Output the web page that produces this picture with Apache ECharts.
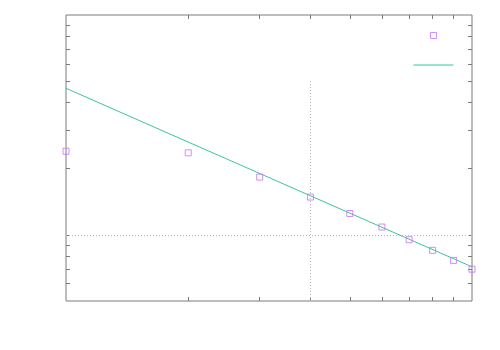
<!DOCTYPE html>
<html>
<head>
<meta charset="utf-8">
<script src="https://cdn.jsdelivr.net/npm/echarts@6/dist/echarts.min.js"></script>
<style>
  html, body { margin: 0; padding: 0; background: #fff; }
  #chart { width: 500px; height: 350px; }
</style>
</head>
<body>
<div id="chart"></div>
<script>
// measured points (log-log)
var xValues = [1, 2, 3, 4, 5, 6, 7, 8, 9, 10];
var yValues = [24.0, 23.6, 18.3, 14.85, 12.5, 10.85, 9.5, 8.5, 7.65, 6.98];
// fitted power law, ends of the range
var fitX = [1, 10];
var fitY = [46.4, 7.15];
// tick positions
var xTicks = [2, 3, 4, 5, 6, 7, 8, 9];
var yTicks = [6, 7, 8, 9, 10, 20, 30, 40, 50, 60, 70, 80, 90];

var pointColor = '#c474ec';
var lineColor = '#3cc49c';
var frameColor = '#7a7a7a';

var chart = echarts.init(document.getElementById('chart'));

function xAxisDef(pos) {
    return {
        type: 'log',
        position: pos,
        min: 1,
        max: 10,
        logBase: 10,
        axisLine: { show: false },
        axisLabel: { show: false },
        splitLine: { show: false },
        axisTick: {
            show: true,
            inside: true,
            length: 4,
            customValues: xTicks,
            lineStyle: { color: frameColor, width: 1 }
        }
    };
}
function yAxisDef(pos) {
    return {
        type: 'log',
        position: pos,
        min: 5,
        max: 100,
        logBase: 10,
        axisLine: { show: false },
        axisLabel: { show: false },
        splitLine: { show: false },
        axisTick: {
            show: true,
            inside: true,
            length: 4,
            customValues: yTicks,
            lineStyle: { color: frameColor, width: 1 }
        }
    };
}

var points = xValues.map(function (x, i) { return [x, yValues[i]]; });
var fit = fitX.map(function (x, i) { return [x, fitY[i]]; });

chart.setOption({
    animation: false,
    backgroundColor: '#fff',
    grid: {
        left: 66, right: 28, top: 15, bottom: 49,
        show: true,
        borderColor: frameColor,
        borderWidth: 1,
        backgroundColor: 'transparent'
    },
    xAxis: [xAxisDef('bottom'), xAxisDef('top')],
    yAxis: [yAxisDef('left'), yAxisDef('right')],
    legend: [
        {
            left: 430, top: 32, padding: 0,
            itemWidth: 6, itemHeight: 6,
            formatter: function () { return ''; },
            data: [{ name: 'data', icon: 'rect',
                     itemStyle: { color: 'transparent', borderColor: pointColor, borderWidth: 1 } }]
        },
        {
            left: 413, top: 62, padding: 0,
            itemWidth: 40, itemHeight: 6,
            formatter: function () { return ''; },
            data: [{ name: 'fit',
                     itemStyle: { opacity: 0 },
                     lineStyle: { color: lineColor, width: 1 } }]
        }
    ],
    series: [
        {
            name: 'fit',
            type: 'line',
            data: fit,
            showSymbol: false,
            symbol: 'none',
            lineStyle: { color: lineColor, width: 1 },
            itemStyle: { color: lineColor },
            silent: true,
            markLine: {
                silent: true,
                symbol: 'none',
                label: { show: false },
                lineStyle: { color: '#b8b8b8', type: [1, 2], width: 1 },
                data: [
                    [{ coord: [4, 5] }, { coord: [4, 50] }],
                    [{ coord: [1, 10] }, { coord: [10, 10] }]
                ]
            }
        },
        {
            name: 'data',
            type: 'scatter',
            data: points,
            symbol: 'rect',
            symbolSize: 6,
            itemStyle: { color: 'transparent', borderColor: pointColor, borderWidth: 1 },
            z: 3
        }
    ]
});
</script>
</body>
</html>
